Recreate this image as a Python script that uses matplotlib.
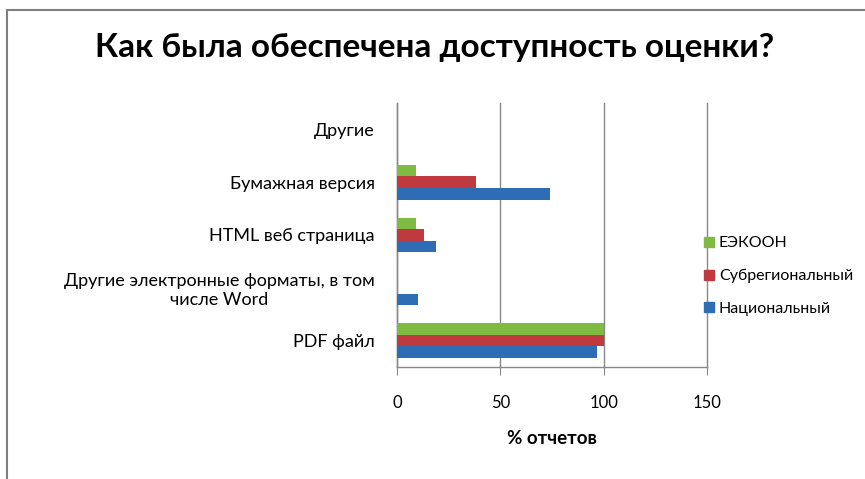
import matplotlib
matplotlib.use("Agg")
import matplotlib.pyplot as plt
from matplotlib.lines import Line2D
import numpy as np

plt.rcParams['font.family'] = ['Lato', 'DejaVu Sans']

categories = ["Другие", "Бумажная версия", "HTML веб страница",
              "Другие электронные форматы, в том\nчисле Word", "PDF файл"]
series_names = ["ЕЭКООН", "Субрегиональный", "Национальный"]
eekoon = [0, 9, 9, 0, 100]
subregional = [0, 38, 13, 0, 100]
national = [0, 74, 19, 10, 97]
xticks = [0, 50, 100, 150]
title = "Как была обеспечена доступность оценки?"
xlabel = "% отчетов"

colors = ["#7FBA42", "#BE3A3E", "#2E6DB4"]

fig = plt.figure(figsize=(8.65, 4.79), dpi=100)
ax = fig.add_axes([397/865, 1-367/479, 310/865, (367-103)/479])

y = np.arange(len(categories))
h = 0.22
for i, (vals, c, name) in enumerate(zip([eekoon, subregional, national], colors, series_names)):
    ax.barh(y + (i-1)*h, vals, height=h, color=c, label=name, zorder=3)

ax.set_ylim(-0.5, len(categories)-0.5)
ax.invert_yaxis()
ax.set_xlim(0, 150)
ax.set_xticks(xticks)
ax.set_xticklabels([str(t) for t in xticks], fontsize=12)
ax.set_yticks(y)
ax.set_yticklabels(categories, fontsize=13, multialignment='center')
ax.tick_params(axis='y', length=0, pad=16)
ax.tick_params(axis='x', length=6, color='#888888', pad=14)
ax.grid(axis='x', color='#888888', lw=1, zorder=0)
for gl in ax.get_xgridlines():
    gl.set_clip_on(False)
for s in ['top', 'right']:
    ax.spines[s].set_visible(False)
for s in ['left', 'bottom']:
    ax.spines[s].set_color('#888888')
    ax.spines[s].set_linewidth(1)
ax.set_xlabel(xlabel, fontsize=13.5, fontweight='bold', labelpad=14)

fig.text(435/865, 1-48/479, title, ha='center', va='center', fontsize=24, fontweight='bold')

handles = [Line2D([], [], marker='s', linestyle='none', markersize=7, color=c) for c in colors]
fig.legend(handles, series_names, loc='center left', bbox_to_anchor=(687/865, 1-276/479),
           frameon=False, fontsize=11.5, labelspacing=1.15, handletextpad=0.1, handlelength=1.0)

# outer chart border (clipped on right and bottom)
fig.add_artist(Line2D([7/865, 7/865], [0, 1-10/479], color='#808080', lw=1.5, transform=fig.transFigure))
fig.add_artist(Line2D([7/865, 1], [1-10/479, 1-10/479], color='#808080', lw=1.5, transform=fig.transFigure))

fig.savefig("out.png", dpi=100)
